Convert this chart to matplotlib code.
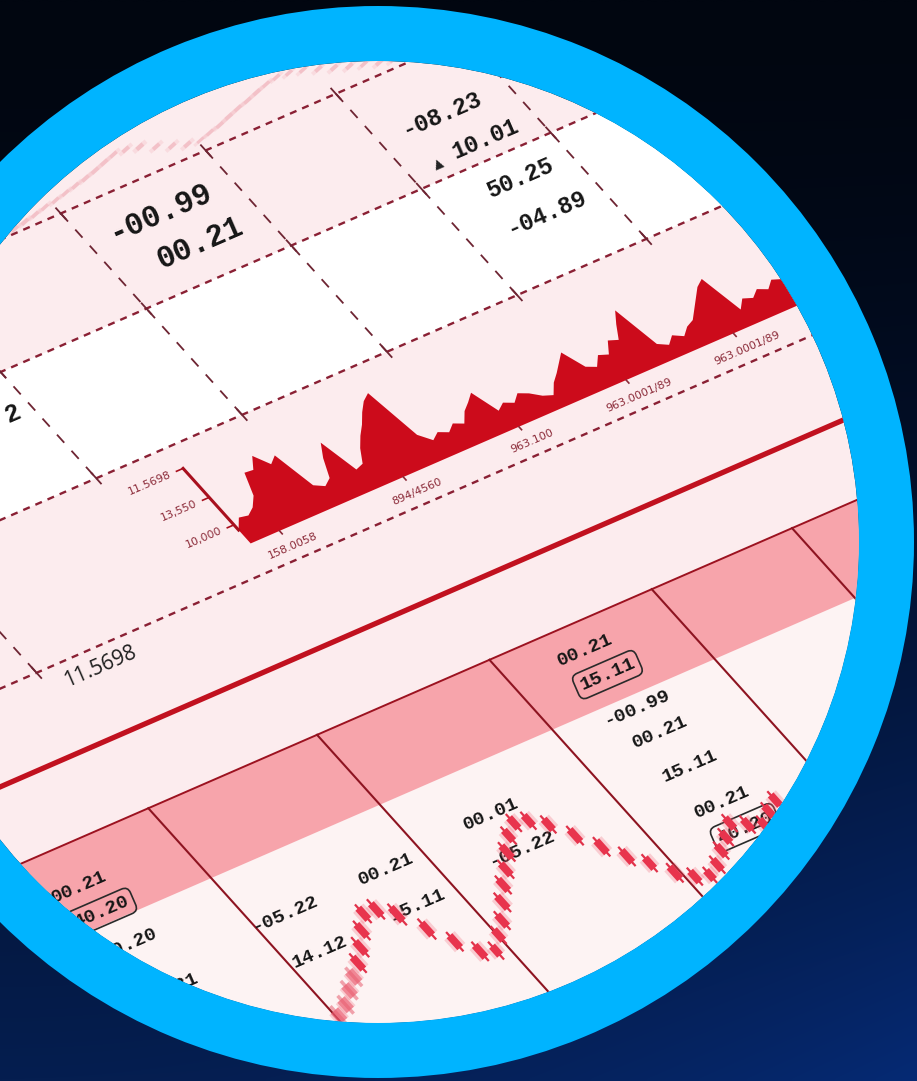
import numpy as np
import matplotlib.pyplot as plt
from matplotlib import patches
from matplotlib.transforms import Affine2D

# ---- data ----
# spiky area chart (heights above its baseline)
area_h = [18, 30, 28, 34, 45, 71, 70, 84, 68, 75, 30, 24, 30, 52, 68, 27, 30, 46,
          58, 68, 80, 90, 96, 35, 23, 29, 24, 31, 26, 38, 45, 53, 24, 30, 25, 33,
          28, 20, 16, 28, 36, 45, 54, 30, 25, 36, 32, 46, 42, 58, 72, 22, 16, 24,
          18, 26, 30, 40, 50, 60, 66, 20, 30, 26, 33, 28, 36, 32, 40, 37, 42]
area_ticks = [3.5, 18.5, 32.5, 45.5, 58.5]
area_tick_labels = ["158.0058", "894/4560", "963.100", "963.0001/89", "963.0001/89"]
area_yticks = [25, 62, 101]
area_ytick_labels = ["10,000", "13,550", "11.5698"]

# candlesticks in the lower table
candle_open = [34, 44, 55, 68, 76, 88, 99, 110, 124, 140, 156, 170, 158, 130, 106, 86, 78,
               79, 91, 108, 125, 139, 155, 171, 181, 191, 179, 158, 136, 116, 99, 80, 67,
               61, 55, 67, 78, 90, 95, 88, 85, 93]
candle_close = [50, 60, 70, 82, 90, 102, 114, 126, 140, 156, 171, 154, 140, 114, 90, 70, 66,
                93, 106, 124, 140, 154, 171, 185, 195, 177, 165, 142, 120, 100, 85, 64, 53,
                49, 69, 81, 92, 104, 81, 76, 99, 107]
candle_high = [56, 66, 75, 88, 95, 108, 119, 131, 146, 161, 176, 176, 163, 136, 111, 91, 84,
               98, 111, 129, 145, 159, 176, 190, 200, 196, 184, 163, 141, 121, 104, 85, 72,
               66, 74, 86, 97, 109, 100, 93, 104, 112]
candle_low = [28, 39, 50, 62, 71, 83, 94, 105, 119, 135, 151, 149, 134, 108, 85, 65, 60,
              74, 86, 103, 120, 134, 150, 166, 176, 172, 160, 137, 115, 95, 80, 59, 48,
              44, 50, 62, 73, 85, 76, 71, 80, 88]

# numbers printed in the table cells
top_left_vals = ["-00.99", "00.21"]
top_right_vals = ["-08.23", "10.01", "50.25", "-04.89"]
row_label = "11.5698"
band_left_vals = ["00.21", "40.20", "00.20", "00.21"]
mid_vals_a = ["-05.22", "14.12"]
mid_vals_b = ["00.21", "15.11"]
mid_vals_c = ["00.01", "-05.22"]
right_vals = ["00.21", "15.11", "-00.99", "00.21", "15.11", "00.21", "40.20"]

# ---- figure ----
W, H = 917, 1081
CX, CY, R_IN, R_OUT = 378, 542, 481, 536
ROT = 23.5
PALE = '#fcecee'
DOT = '#8a2034'
VDASH = '#6e2533'
MONO = ['Liberation Mono', 'DejaVu Sans']

fig = plt.figure(figsize=(9.17, 10.81), dpi=100)
ax = fig.add_axes([0, 0, 1, 1])
ax.set_xlim(0, W)
ax.set_ylim(H, 0)
ax.set_autoscale_on(False)
ax.axis('off')

# dark navy background
t = np.linspace(0, 1, 240)[:, None, None]
s = np.linspace(0, 1, 200)[None, :, None]
top = np.array([1, 6, 16])
bot = np.array([5, 30, 80])
img = top + (bot - top) * t ** 1.5 + np.array([1, 12, 36]) * (s * t) ** 2
img = np.clip(img / 255.0, 0, 1)
ax.imshow(img, extent=(0, W, H, 0), aspect='auto', zorder=0, interpolation='bilinear')
ax.set_xlim(0, W)
ax.set_ylim(H, 0)

# tilted table plane: (u, v) -> pixels
content = Affine2D.from_values(0.917, -0.399, 0.669, 0.743, 0, 0) + ax.transData

ax.add_patch(patches.Rectangle((-1200, -300), 2400, 1800, transform=content, fc=PALE, ec='none', zorder=1))
ax.add_patch(patches.Rectangle((-1200, 360), 2400, 143, transform=content, fc='white', ec='none', zorder=1.2))
ax.add_patch(patches.Rectangle((-1200, 938), 2400, 600, transform=content, fc='#fdf3f3', ec='none', zorder=1.2))
ax.add_patch(patches.Rectangle((-1200, 844), 2400, 94, transform=content, fc='#f7a4ab', ec='none', zorder=1.2))

# grid of the upper table
for v in [232, 360, 503, 666]:
    ax.plot([-1200, 1200], [v, v], transform=content, color=DOT, lw=1.7,
            ls=(0, (3, 2.6)), zorder=2)
for u in [-420, -262, -103, 55, 197, 338, 478]:
    ax.plot([u, u], [232, 503], transform=content, color=VDASH, lw=1.3,
            ls=(0, (6, 6)), zorder=2)
    for v in [232, 360, 503]:
        ax.plot([u, u], [v - 7, v + 7], transform=content, color=VDASH, lw=1.3, zorder=2)
ax.plot([-446, -446], [503, 666], transform=content, color=VDASH, lw=1.3,
        ls=(0, (6, 6)), zorder=2)
ax.plot([-446, -446], [659, 673], transform=content, color=VDASH, lw=1.3, zorder=2)

# thick separator and lower table frame
ax.plot([-1200, 1200], [761, 761], transform=content, color='#c1111f', lw=3.8, zorder=2)
ax.plot([-1200, 1200], [844, 844], transform=content, color='#9c1220', lw=1.4, zorder=2)
for u in [-640, -454, -270, -82, 95, 248]:
    ax.plot([u, u], [844, 1400], transform=content, color='#8e1421', lw=1.5, zorder=2)

# area chart
area_tr = Affine2D().scale(9, -1).translate(-187, 631) + content
ax.fill_between(np.arange(len(area_h)), 0, area_h, transform=area_tr,
                facecolor='#cc0b1b', lw=0, zorder=3)
ax.plot([0, 0], [18, 101], transform=area_tr, color='#a8101e', lw=2.2, zorder=3)
for yv, lab in zip(area_yticks, area_ytick_labels):
    ax.plot([-0.8, 0], [yv, yv], transform=area_tr, color='#a8101e', lw=1.2, zorder=3)
    ax.text(-1.5, yv, lab, transform=area_tr, rotation=ROT, rotation_mode='anchor',
            ha='right', va='center', fontsize=8, color='#8b2a38', zorder=4)
for xt, lab in zip(area_ticks, area_tick_labels):
    ax.plot([xt, xt], [0, -4], transform=area_tr, color='#8b2a38', lw=1.2, zorder=3)
    ax.text(xt, -20, lab, transform=area_tr, rotation=ROT, rotation_mode='anchor',
            ha='center', va='center', fontsize=8, color='#8b2a38', zorder=4)


def label(u, v, txt, size, box=False, ha='center', family=MONO, weight='bold', color='#161616'):
    kw = {}
    if box:
        kw['bbox'] = dict(boxstyle='round,pad=0.25,rounding_size=0.35', fc='none',
                          ec='#2a2a2a', lw=1.2)
    ax.text(u, v, txt, transform=content, rotation=ROT, rotation_mode='anchor',
            ha=ha, va='center', fontsize=size, family=family, fontweight=weight,
            color=color, zorder=5, **kw)


for txt, (u, v) in zip(top_left_vals, [(-25, 273), (-15, 319)]):
    label(u, v, txt, 22)
for txt, (u, v) in zip(top_right_vals, [(266, 296), (282, 339), (282, 391), (278, 436)]):
    label(u, v, txt, 17)
label(228, 342, "\u25b2", 9, family=['DejaVu Sans'], weight='normal', color='#222222')
label(-282, 405, "2", 18)
label(-392, 687, row_label, 15, family=['Open Sans', 'DejaVu Sans'], weight='normal', color='#1e1e1e')

for i, (txt, v) in enumerate(zip(band_left_vals, [891, 925, 968, 1028])):
    label(-564, v, txt, 14, box=(i == 1))
for txt, v in zip(mid_vals_a, [1004, 1055]):
    label(-421, v, txt, 14)
for txt, v in zip(mid_vals_b, [1003, 1051]):
    label(-311, v, txt, 14)
for txt, v in zip(mid_vals_c, [994, 1041]):
    label(-190, v, txt, 14)
for i, (txt, v) in enumerate(zip(right_vals, [875, 908, 953, 986, 1031, 1079, 1114])):
    label(0, v, txt, 14, box=(i in (1, 6)))

# candlesticks (the first few sit low in the picture and look out of focus)
cx = np.arange(len(candle_open))
candle_tr = Affine2D().scale(13, -1).translate(-490, 1200) + content
ax.vlines(cx, candle_open, candle_close, transform=candle_tr, colors='#ee5a6c',
          lw=10, alpha=0.25, zorder=6)
ax.vlines(cx[:7], candle_low[:7], candle_high[:7], transform=candle_tr, colors='#e86a7a',
          lw=2.5, alpha=0.6, zorder=6)
ax.vlines(cx[:7], candle_open[:7], candle_close[:7], transform=candle_tr, colors='#ea5a6e',
          lw=7, alpha=0.6, zorder=6)
ax.vlines(cx[7:], candle_low[7:], candle_high[7:], transform=candle_tr, colors='#e0324a',
          lw=1.6, zorder=6)
ax.vlines(cx[7:], candle_open[7:], candle_close[7:], transform=candle_tr, colors='#e8344d',
          lw=5.5, zorder=6)

# faded, out-of-focus copy of the candles near the top edge
ghost_tr = Affine2D().scale(13, -0.25).translate(-150, 238) + content
ax.vlines(cx, candle_open, candle_close, transform=ghost_tr, colors='#e87a88',
          lw=12, alpha=0.14, zorder=1.5)
ax.vlines(cx, candle_open, candle_close, transform=ghost_tr, colors='#e06878',
          lw=6, alpha=0.22, zorder=1.5)

clip = patches.Circle((CX, CY), R_IN, transform=ax.transData)
for art in ax.lines + ax.collections + ax.patches + ax.texts:
    art.set_clip_path(clip)

# cyan ring
ax.add_patch(patches.Wedge((CX, CY), R_OUT, 0, 360, width=R_OUT - R_IN,
                           fc='#00b4ff', ec='none', zorder=20))

fig.savefig('out.png', dpi=100)
